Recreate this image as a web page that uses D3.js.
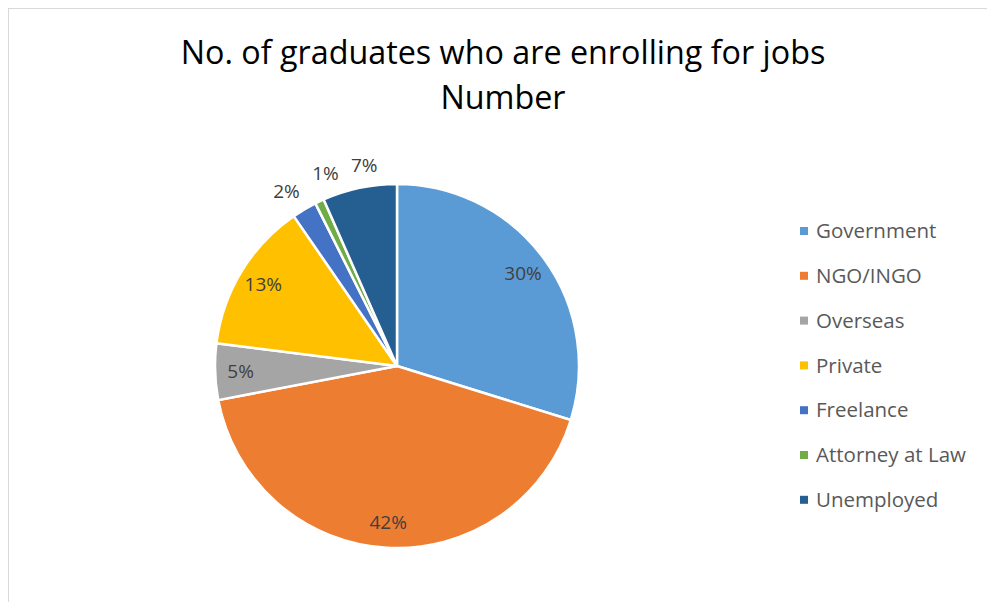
<!DOCTYPE html>
<html>
<head>
<meta charset="utf-8">
<script src="https://cdn.jsdelivr.net/npm/d3@7"></script>
<style>
  body { margin: 0; background: #fff; }
  svg { display: block; }
</style>
</head>
<body>
<svg id="chart" width="987" height="602"></svg>
<script>
// chart data (percent of graduates)
const categories = ["Government", "NGO/INGO", "Overseas", "Private", "Freelance", "Attorney at Law", "Unemployed"];
const values = [29.8, 42.2, 5.0, 13.4, 2.2, 0.8, 6.6];
const colors = ["#5B9BD5", "#ED7D31", "#A5A5A5", "#FFC000", "#4472C4", "#70AD47", "#255E91"];
const titleLines = ["No. of graduates who are enrolling for jobs", "Number"];

const font = "'Open Sans', 'Noto Sans', sans-serif";
const svg = d3.select("#chart");

// chart area border (runs off the right/bottom edge)
svg.append("rect")
    .attr("x", 8.5).attr("y", 8.5)
    .attr("width", 1000).attr("height", 620)
    .attr("fill", "none")
    .attr("stroke", "#d9d9d9")
    .attr("stroke-width", 1);

// title
svg.append("g").selectAll("text")
    .data(titleLines)
    .join("text")
    .attr("x", 503)
    .attr("y", (d, i) => 64 + i * 45)
    .attr("text-anchor", "middle")
    .style("font-family", font)
    .style("font-size", "32.3px")
    .attr("fill", "#000")
    .text(d => d);

// pie
const cx = 397, cy = 366, R = 182;
const pie = d3.pie().sort(null).value(d => d.v);
const data = pie(categories.map((c, i) => ({ name: c, v: values[i], color: colors[i] })));
const arc = d3.arc().innerRadius(0).outerRadius(R);

const g = svg.append("g").attr("transform", `translate(${cx},${cy})`);
g.selectAll("path")
    .data(data)
    .join("path")
    .attr("d", arc)
    .attr("fill", d => d.data.color)
    .attr("stroke", "#fff")
    .attr("stroke-width", 2.5)
    .attr("stroke-linejoin", "round");

// data labels: inside, except the thin slices near the top go outside
const inArc = d3.arc().innerRadius(R * 0.86).outerRadius(R * 0.86);
const isOutside = d => (d.startAngle + d.endAngle) / 2 > Math.PI * 1.75;
const fmt = v => d3.format(".0f")(v) + "%";

const labels = g.selectAll("text.lbl")
    .data(data)
    .join("text")
    .attr("class", "lbl")
    .style("font-family", font)
    .style("font-size", "19px")
    .attr("fill", "#404040")
    .text(d => fmt(d.data.v));

labels.filter(d => !isOutside(d))
    .attr("transform", d => `translate(${inArc.centroid(d)})`)
    .attr("text-anchor", "middle")
    .attr("dy", "0.35em");

// outside labels: bottom-right corner sits just off the rim,
// slid clockwise along the rim if it hits the previous label
const rOut = R * 1.05;
let prevRight = -Infinity;
labels.filter(isOutside).each(function (d) {
    const w = this.getComputedTextLength();
    let a = (d.startAngle + d.endAngle) / 2;
    let x = rOut * Math.sin(a), y = -rOut * Math.cos(a);
    while (x - w < prevRight + 12 && a < Math.PI * 2) {
        a += 0.005;
        x = rOut * Math.sin(a);
        y = -rOut * Math.cos(a);
    }
    prevRight = x;
    d3.select(this)
        .attr("text-anchor", "end")
        .attr("x", x)
        .attr("y", y - 4);
});

// legend
const legend = svg.append("g").attr("transform", "translate(800,231)");
const row = legend.selectAll("g")
    .data(categories)
    .join("g")
    .attr("transform", (d, i) => `translate(0,${i * 44.8})`);
row.append("rect")
    .attr("x", 0).attr("y", -4)
    .attr("width", 8).attr("height", 8)
    .attr("fill", (d, i) => colors[i]);
row.append("text")
    .attr("x", 16)
    .attr("dy", "0.35em")
    .style("font-family", font)
    .style("font-size", "20.5px")
    .attr("fill", "#595959")
    .text(d => d);
</script>
</body>
</html>
